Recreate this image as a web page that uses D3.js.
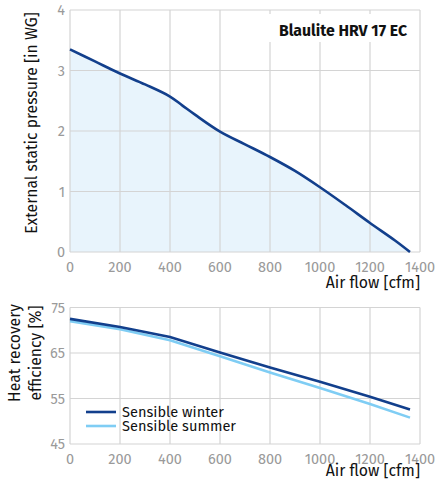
<!DOCTYPE html>
<html><head><meta charset="utf-8">
<script src="https://cdn.jsdelivr.net/npm/d3@7"></script>
<style>body{margin:0;background:#fff}svg{display:block}text{font-family:"Fira Sans","Noto Sans",sans-serif}</style>
</head><body>
<script>
const airflow = [0, 100, 200, 300, 400, 450, 500, 600, 700, 800, 900, 1000, 1100, 1200, 1300, 1360];
const pressure = [3.35, 3.15, 2.95, 2.77, 2.57, 2.42, 2.27, 1.99, 1.78, 1.57, 1.34, 1.07, 0.78, 0.48, 0.19, 0];
const effX = [0, 200, 400, 600, 800, 1000, 1200, 1360];
const winter = [72.5, 70.7, 68.5, 65.1, 61.8, 58.7, 55.4, 52.6];
const summer = [72.0, 70.2, 67.8, 64.3, 60.7, 57.3, 53.8, 50.8];
const xTicks = [0, 200, 400, 600, 800, 1000, 1200, 1400];
const pTicks = [0, 1, 2, 3, 4];
const eTicks = [45, 55, 65, 75];
const seriesNames = ["Sensible winter", "Sensible summer"];

const W = 438, H = 481;
const svg = d3.select("body").append("svg").attr("width", W).attr("height", H);
const x = d3.scaleLinear().domain([0, 1400]).range([70, 420]);
const y1 = d3.scaleLinear().domain([0, 4]).range([252, 10]);
const y2 = d3.scaleLinear().domain([45, 75]).range([444, 307.5]);
const gridC = "#d4d4d4", tickC = "#9a9a9a";

function grid(y, yt) {
  const g = svg.append("g");
  g.selectAll(".v").data(xTicks).join("line")
    .attr("x1", d => x(d)).attr("x2", d => x(d))
    .attr("y1", y.range()[1]).attr("y2", y.range()[0])
    .attr("stroke", gridC).attr("stroke-width", 1.2);
  g.selectAll(".h").data(yt).join("line")
    .attr("x1", x(0)).attr("x2", x(1400))
    .attr("y1", d => y(d)).attr("y2", d => y(d))
    .attr("stroke", gridC).attr("stroke-width", 1.2);
  g.selectAll(".xt").data(xTicks).join("text")
    .attr("x", d => x(d)).attr("y", y.range()[0] + 20)
    .attr("text-anchor", "middle").attr("fill", tickC).attr("font-size", 14.5).text(d => d);
  g.selectAll(".yt").data(yt).join("text")
    .attr("x", x(0) - 5).attr("y", d => y(d) + 5)
    .attr("text-anchor", "end").attr("fill", tickC).attr("font-size", 14.5).text(d => d);
}

// top chart
const pts = airflow.map((a, i) => [a, pressure[i]]);
const curve = d3.curveCatmullRom.alpha(0.5);
svg.append("path").datum(pts)
  .attr("d", d3.area().x(d => x(d[0])).y0(y1(0)).y1(d => y1(d[1])).curve(curve))
  .attr("fill", "#e8f4fc");
grid(y1, pTicks);
svg.append("path").datum(pts)
  .attr("d", d3.line().x(d => x(d[0])).y(d => y1(d[1])).curve(curve))
  .attr("fill", "none").attr("stroke", "#123f8c").attr("stroke-width", 2.6);

svg.append("rect").attr("x", 266).attr("y", 14).attr("width", 153).attr("height", 28).attr("fill", "#fff");
svg.append("text").attr("x", 407).attr("y", 36).attr("text-anchor", "end")
  .attr("font-size", 15.8).attr("font-weight", "bold").attr("fill", "#111").text("Blaulite HRV 17 EC");
svg.append("text").attr("x", 420).attr("y", 288).attr("text-anchor", "end")
  .attr("font-size", 15.8).attr("fill", "#111").text("Air flow [cfm]");
svg.append("text").attr("transform", "translate(37,123) rotate(-90)").attr("text-anchor", "middle")
  .attr("font-size", 15.7).attr("fill", "#111").text("External static pressure [in WG]");

// bottom chart
grid(y2, eTicks);
const line2 = d3.line().x((d, i) => x(effX[i])).y(d => y2(d));
svg.append("path").datum(summer).attr("d", line2).attr("fill", "none")
  .attr("stroke", "#7fcdf4").attr("stroke-width", 2.6);
svg.append("path").datum(winter).attr("d", line2).attr("fill", "none")
  .attr("stroke", "#123f8c").attr("stroke-width", 2.6);
svg.append("text").attr("x", 420).attr("y", 476).attr("text-anchor", "end")
  .attr("font-size", 15.8).attr("fill", "#111").text("Air flow [cfm]");
const yl = svg.append("text").attr("transform", "translate(0,353) rotate(-90)").attr("text-anchor", "middle")
  .attr("font-size", 15.7).attr("fill", "#111");
yl.append("tspan").attr("x", 0).attr("y", 20).text("Heat recovery");
yl.append("tspan").attr("x", 0).attr("y", 41).text("efficiency [%]");

const legC = ["#123f8c", "#7fcdf4"];
const leg = svg.append("g").selectAll("g").data(seriesNames).join("g")
  .attr("transform", (d, i) => `translate(86,${412 + i * 14})`);
leg.append("line").attr("x1", 0).attr("x2", 30).attr("stroke", (d, i) => legC[i]).attr("stroke-width", 2.6);
leg.append("text").attr("x", 36).attr("y", 5).attr("font-size", 14.6).attr("fill", "#111").text(d => d);
</script>
</body></html>
